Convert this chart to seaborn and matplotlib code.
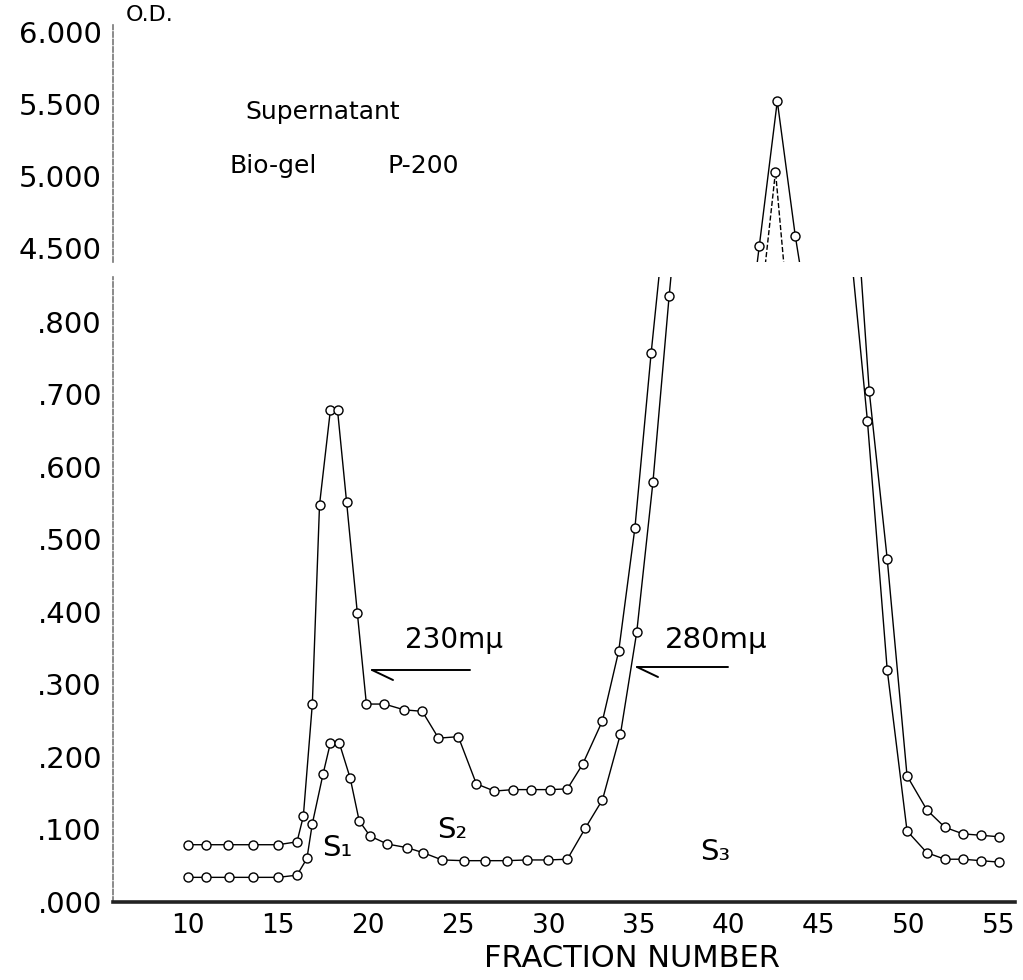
import matplotlib
matplotlib.use("Agg")
import matplotlib.pyplot as plt
import seaborn as sns
import pandas as pd
from matplotlib.lines import Line2D

# O.D. readings per fraction; values above .86 and below 4.5 fall in the axis break
fraction_230 = [10.0, 11.0, 12.2, 13.6, 15.0, 16.05, 16.4, 16.9, 17.3, 17.9, 18.3, 18.8,
                19.4, 19.9, 20.9, 22.0, 23.0, 23.9, 25.0, 26.0, 27.0, 28.05, 29.05, 30.1,
                31.05, 31.9, 33.0, 33.9, 34.8, 35.7, 36.7, 37.7, 38.7, 39.7, 40.7, 41.7,
                42.7, 43.7, 44.7, 45.7, 46.7, 47.8, 48.8, 49.9, 51.0, 52.0, 53.0, 54.0, 55.0]
od_230 = [0.079, 0.079, 0.079, 0.079, 0.079, 0.083, 0.118, 0.273, 0.548, 0.678, 0.678, 0.552,
          0.398, 0.273, 0.273, 0.265, 0.263, 0.226, 0.228, 0.163, 0.153, 0.155, 0.155, 0.155,
          0.156, 0.190, 0.250, 0.346, 0.516, 0.757, 1.0, 1.8, 2.6, 3.1, 3.5, 4.51,
          5.52, 4.58, 3.8, 2.4, 1.1, 0.705, 0.473, 0.174, 0.127, 0.103, 0.094, 0.092, 0.090]

fraction_280 = [10.0, 11.0, 12.3, 13.6, 15.0, 16.05, 16.6, 16.9, 17.5, 17.9, 18.4, 19.0,
                19.5, 20.1, 21.05, 22.15, 23.05, 24.1, 25.3, 26.5, 27.7, 28.8, 30.0, 31.05,
                32.05, 33.0, 34.0, 34.9, 35.8, 36.7, 37.7, 38.7, 39.7, 40.7, 41.7, 42.6,
                43.7, 44.7, 45.7, 46.7, 47.7, 48.8, 49.9, 51.0, 52.0, 53.0, 54.0, 55.0]
od_280 = [0.034, 0.034, 0.034, 0.034, 0.034, 0.037, 0.060, 0.108, 0.177, 0.219, 0.219, 0.171,
          0.112, 0.091, 0.080, 0.075, 0.068, 0.058, 0.057, 0.057, 0.057, 0.058, 0.058, 0.059,
          0.102, 0.141, 0.232, 0.372, 0.579, 0.836, 1.1, 1.9, 2.7, 3.4, 4.0, 5.03,
          3.5, 2.6, 1.8, 0.92, 0.664, 0.32, 0.098, 0.068, 0.059, 0.059, 0.057, 0.055]

low_ticks = [0.0, 0.1, 0.2, 0.3, 0.4, 0.5, 0.6, 0.7, 0.8]
low_labels = [".000", ".100", ".200", ".300", ".400", ".500", ".600", ".700", ".800"]
high_ticks = [4.5, 5.0, 5.5, 6.0]
high_labels = ["4.500", "5.000", "5.500", "6.000"]
x_ticks = [10, 15, 20, 25, 30, 35, 40, 45, 50, 55]

sns.set_style("white")
plt.rcParams["font.family"] = ["DejaVu Sans"]
plt.rcParams["text.color"] = "black"
plt.rcParams["xtick.color"] = "black"
plt.rcParams["ytick.color"] = "black"

W, H = 1023, 980
fig = plt.figure(figsize=(W / 100, H / 100), dpi=100)


def box(left, top, right, bottom):
    return [left / W, 1 - bottom / H, (right - left) / W, (bottom - top) / H]


ax_lo = fig.add_axes(box(113, 277, 1015, 902))
ax_hi = fig.add_axes(box(113, 25, 1015, 262), sharex=ax_lo)

df230 = pd.DataFrame({"fraction": fraction_230, "od": od_230})
df280 = pd.DataFrame({"fraction": fraction_280, "od": od_280})

style = dict(color="black", marker="o", markersize=6.5, markerfacecolor="white",
             markeredgecolor="black", markeredgewidth=1.0, linewidth=1.0,
             sort=False, estimator=None)

for ax in (ax_lo, ax_hi):
    sns.lineplot(data=df230, x="fraction", y="od", ax=ax, **style)
    sns.lineplot(data=df280, x="fraction", y="od", ax=ax,
                 linestyle="-" if ax is ax_lo else "--", **style)
    ax.set_xlabel("")
    ax.set_ylabel("")
    for s in ("top", "right"):
        ax.spines[s].set_visible(False)
    ax.spines["left"].set_color("#777777")
    ax.spines["left"].set_linewidth(1.2)
    ax.spines["left"].set_linestyle((0, (3, 1.5)))
    ax.tick_params(direction="in", length=5, width=1.2, pad=8)
    ax.tick_params(axis="y", labelsize=21)
    ax.tick_params(axis="x", labelsize=19)

ax_lo.set_xlim(5.84, 55.89)
ax_lo.set_ylim(0, 0.862)
ax_hi.set_ylim(4.40, 6.05)

ax_lo.set_xticks(x_ticks)
ax_lo.set_xticklabels([str(t) for t in x_ticks])
ax_lo.set_yticks(low_ticks)
ax_lo.set_yticklabels(low_labels)
ax_lo.spines["bottom"].set_linewidth(2.6)
ax_lo.spines["bottom"].set_color("#222222")

ax_hi.set_yticks(high_ticks)
ax_hi.set_yticklabels(high_labels)
ax_hi.spines["bottom"].set_visible(False)
ax_hi.tick_params(axis="x", bottom=False, labelbottom=False)


def ftext(x, y, s, **kw):
    fig.text(x / W, 1 - y / H, s, va="center", **kw)


def fline(x1, y1, x2, y2):
    fig.add_artist(Line2D([x1 / W, x2 / W], [1 - y1 / H, 1 - y2 / H],
                          color="black", linewidth=1.4))


ftext(632, 958, "FRACTION NUMBER", fontsize=22, ha="center")

ftext(126, 15, "O.D.", fontsize=16)
ftext(245, 112, "Supernatant", fontsize=18)
ftext(230, 166, "Bio-gel", fontsize=18)
ftext(388, 166, "P-200", fontsize=18)

ftext(405, 640, "230mμ", fontsize=20)
fline(372, 670, 470, 670)
fline(372, 670, 393, 680)

ftext(665, 640, "280mμ", fontsize=21)
fline(637, 667, 728, 667)
fline(637, 667, 658, 677)

ftext(322, 848, "S₁", fontsize=21)
ftext(437, 830, "S₂", fontsize=21)
ftext(700, 852, "S₃", fontsize=21)

fig.savefig("out.png", dpi=100)
